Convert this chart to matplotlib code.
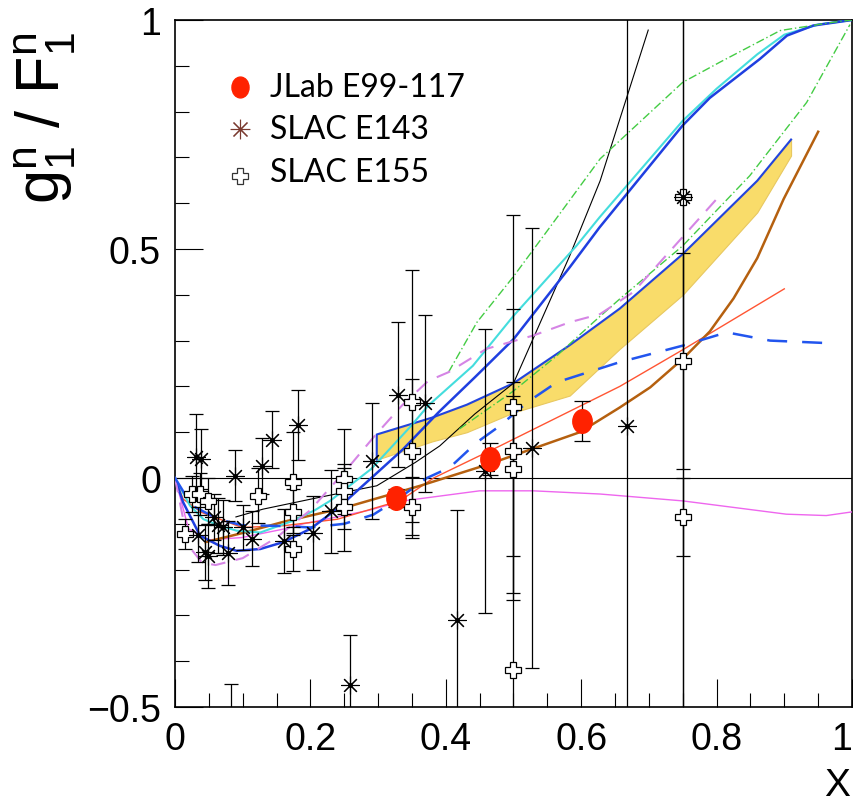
import numpy as np
import matplotlib
matplotlib.use('Agg')
import matplotlib.pyplot as plt
from matplotlib.ticker import MultipleLocator
from matplotlib.path import Path

plt.rcParams['font.family'] = ['Liberation Sans', 'DejaVu Sans']
plt.rcParams['mathtext.fontset'] = 'custom'
plt.rcParams['mathtext.rm'] = 'Liberation Sans'
plt.rcParams['mathtext.it'] = 'Liberation Sans'

# ---- data points ----
jlab_x = [0.327, 0.465, 0.601]
jlab_y = [-0.043, 0.041, 0.124]
jlab_err = [0.02, 0.035, 0.044]

e143_x = [0.031, 0.039, 0.034, 0.044, 0.049, 0.057, 0.063, 0.071, 0.078, 0.083,
          0.089, 0.101, 0.113, 0.128, 0.144, 0.161, 0.182, 0.204, 0.230, 0.259,
          0.291, 0.329, 0.369, 0.416, 0.458, 0.527, 0.667, 0.75]
e143_y = [0.045, 0.041, -0.124, -0.162, -0.170, -0.086, -0.103, -0.108, -0.164, -0.60,
          0.005, -0.108, -0.133, 0.026, 0.084, -0.138, 0.116, -0.120, -0.073, -0.452,
          0.037, 0.182, 0.163, -0.311, 0.016, 0.065, 0.113, 0.614]
e143_err = [0.095, 0.065, 0.06, 0.06, 0.07, 0.05, 0.06, 0.06, 0.07, 0.15,
            0.056, 0.05, 0.06, 0.062, 0.063, 0.07, 0.076, 0.08, 0.09, 0.11,
            0.127, 0.158, 0.193, 0.242, 0.31, 0.48, 1.5, 1.5]

e155_x = [0.015, 0.025, 0.037, 0.049, 0.123, 0.175, 0.175, 0.175, 0.249, 0.249,
          0.249, 0.350, 0.350, 0.350, 0.50, 0.50, 0.50, 0.50, 0.75, 0.75, 0.75]
e155_y = [-0.122, -0.035, -0.035, -0.050, -0.039, -0.009, -0.075, -0.155, -0.002, -0.028,
          -0.064, 0.165, 0.060, -0.064, 0.154, 0.060, 0.020, -0.42, 0.614, 0.256, -0.086]
e155_err = [0.033, 0.04, 0.045, 0.05, 0.06, 0.11, 0.05, 0.047, 0.11, 0.05,
            0.095, 0.29, 0.156, 0.066, 0.42, 0.31, 0.19, 0.6, 1.5, 0.236, 0.085]

# ---- model curves ----
band_x = [0.298, 0.38, 0.431, 0.5, 0.583, 0.657, 0.75, 0.86, 0.91]
band_hi = [0.095, 0.132, 0.160, 0.207, 0.290, 0.370, 0.489, 0.649, 0.739]
band_lo = [0.040, 0.080, 0.100, 0.143, 0.180, 0.282, 0.400, 0.580, 0.704]

blue_x = [0, 0.012, 0.037, 0.066, 0.091, 0.126, 0.16, 0.2, 0.239, 0.29, 0.337, 0.389,
          0.443, 0.5, 0.583, 0.627, 0.75, 0.79, 0.864, 0.904, 0.943, 1.0]
blue_y = [0, -0.053, -0.126, -0.148, -0.159, -0.155, -0.14, -0.111, -0.068, 0.0, 0.063, 0.143,
          0.22, 0.303, 0.46, 0.547, 0.77, 0.83, 0.915, 0.966, 0.988, 1.0]

cyan_x = [0, 0.022, 0.042, 0.066, 0.091, 0.126, 0.175, 0.207, 0.229, 0.29, 0.347, 0.374,
          0.44, 0.5, 0.593, 0.627, 0.75, 0.8, 0.86, 0.9, 0.95, 1.0]
cyan_y = [0, -0.06, -0.09, -0.104, -0.115, -0.119, -0.093, -0.07, -0.05, 0.02, 0.111, 0.158,
          0.245, 0.354, 0.507, 0.569, 0.78, 0.85, 0.925, 0.968, 0.99, 1.0]

green1_x = [0.404, 0.446, 0.5, 0.55, 0.628, 0.75, 0.805, 0.894, 0.972, 1.0]
green1_y = [0.231, 0.34, 0.44, 0.54, 0.697, 0.864, 0.908, 0.977, 0.995, 1.0]

green2_x = [0.42, 0.5, 0.564, 0.618, 0.657, 0.75, 0.849, 0.933, 0.997]
green2_y = [0.107, 0.19, 0.267, 0.34, 0.391, 0.507, 0.66, 0.82, 0.99]

mdash_x = [0, 0.02, 0.04, 0.06, 0.1, 0.15, 0.2, 0.224, 0.256, 0.295, 0.335, 0.374,
           0.404, 0.46, 0.529, 0.583, 0.628, 0.677, 0.8]
mdash_y = [0, -0.148, -0.185, -0.19, -0.175, -0.13, -0.07, -0.03, 0.023, 0.092, 0.158, 0.212,
           0.231, 0.282, 0.311, 0.34, 0.358, 0.406, 0.609]

black_x = [0.09, 0.13, 0.214, 0.298, 0.355, 0.391, 0.443, 0.5, 0.583, 0.628, 0.699]
black_y = [-0.085, -0.068, -0.042, -0.017, 0.034, 0.07, 0.14, 0.207, 0.485, 0.649, 0.978]

brown_x = [0.045, 0.1, 0.162, 0.25, 0.332, 0.362, 0.465, 0.598, 0.657, 0.702, 0.75,
           0.79, 0.825, 0.86, 0.899, 0.95]
brown_y = [-0.14, -0.12, -0.095, -0.065, -0.03, -0.017, 0.031, 0.1, 0.154, 0.198, 0.26,
           0.32, 0.392, 0.48, 0.609, 0.756]

red_x = [0, 0.012, 0.039, 0.099, 0.162, 0.24, 0.308, 0.332, 0.382, 0.48, 0.657, 0.75, 0.9]
red_y = [0, -0.046, -0.075, -0.108, -0.104, -0.09, -0.06, -0.05, 0.0, 0.07, 0.2, 0.28, 0.413]

bdash_x = [0, 0.025, 0.064, 0.099, 0.162, 0.2, 0.25, 0.293, 0.33, 0.372, 0.406, 0.446,
           0.48, 0.52, 0.564, 0.657, 0.75, 0.815, 0.879, 0.972]
bdash_y = [0, -0.06, -0.09, -0.103, -0.105, -0.108, -0.1, -0.08, -0.045, 0.0, 0.023, 0.078,
           0.114, 0.165, 0.209, 0.253, 0.289, 0.318, 0.30, 0.294]

msol_x = [0, 0.02, 0.05, 0.099, 0.162, 0.19, 0.288, 0.337, 0.45, 0.529, 0.628, 0.75,
          0.903, 0.962, 1.0]
msol_y = [0, -0.111, -0.135, -0.13, -0.111, -0.1, -0.07, -0.05, -0.028, -0.028, -0.035, -0.05,
          -0.079, -0.082, -0.074]

xticks = [0, 0.2, 0.4, 0.6, 0.8, 1]
xtick_labels = ['0', '0.2', '0.4', '0.6', '0.8', '1']
yticks = [-0.5, 0, 0.5, 1]
ytick_labels = ['\u22120.5', '0', '0.5', '1']

fig = plt.figure(figsize=(8.54, 8.04), dpi=100)
ax = fig.add_axes([175/854, 1-708/804, 677/854, 687/804])
ax.set_xlim(0, 1)
ax.set_ylim(-0.5, 1)

ax.axhline(0, color='black', lw=0.8, zorder=1)

ax.fill_between(band_x, band_lo, band_hi, facecolor='#f9dc6a', edgecolor='#e8c860', lw=0.8, zorder=2)
ax.plot([band_x[0], band_x[0]] + band_x, [band_lo[0], band_hi[0]] + band_hi, color='#2244dd', lw=1.5, zorder=3)

ax.plot(msol_x, msol_y, color='#ee66ee', lw=1.0, zorder=3)
ax.plot(red_x, red_y, color='#ff5533', lw=1.0, zorder=3)
ax.plot(brown_x, brown_y, color='#b5600f', lw=1.8, zorder=3)
ax.plot(black_x, black_y, color='black', lw=0.8, zorder=3)
ax.plot(cyan_x, cyan_y, color='#44dddd', lw=1.5, zorder=3)
ax.plot(blue_x, blue_y, color='#1f3fe0', lw=1.8, zorder=3)
ax.plot(green1_x, green1_y, color='#44cc44', lw=1.0, ls=(0, (6, 2, 1, 2)), zorder=3)
ax.plot(green2_x, green2_y, color='#44cc44', lw=1.0, ls=(0, (6, 2, 1, 2)), zorder=3)
ax.plot(mdash_x, mdash_y, color='#d585e5', lw=1.5, ls=(0, (7, 5)), zorder=3)
ax.plot(bdash_x, bdash_y, color='#2255ee', lw=1.8, ls=(0, (8, 6)), zorder=3)

# SLAC E155 open crosses
ax.errorbar(e155_x, e155_y, yerr=e155_err, fmt='none', ecolor='black', elinewidth=0.9,
            capsize=5, capthick=0.9, zorder=4)
ax.plot(e155_x, e155_y, ls='none', marker='P', ms=11, mfc='white', mec='black', mew=0.9, zorder=5)

# SLAC E143 stars
ax.errorbar(e143_x, e143_y, yerr=e143_err, fmt='none', ecolor='black', elinewidth=0.9,
            capsize=5, capthick=0.9, zorder=4)
ax.plot(e143_x, e143_y, ls='none', marker=(8, 2, 0), ms=13, mec='black', mew=0.8, zorder=5)
ax.plot(e143_x, e143_y, ls='none', marker='o', ms=2.5, color='black', zorder=5)

# JLab E99-117
circ = Path.unit_circle()
ellipse = Path(circ.vertices * [0.82, 1.0], circ.codes)
ax.errorbar(jlab_x, jlab_y, yerr=jlab_err, fmt='none', ecolor='black', elinewidth=0.9,
            capsize=6, capthick=0.9, zorder=6)
ax.plot(jlab_x, jlab_y, ls='none', marker=ellipse, ms=17, color='#ff2200', mec='#ff2200', zorder=7)

# legend
leg_font = dict(family=['Lato', 'DejaVu Sans'], fontsize=23)
lx, tx = 0.096, 0.140
rows = [0.9025, 0.841, 0.779]
ax.plot([lx], [rows[0]], transform=ax.transAxes, marker=ellipse, ms=15, color='#ff2200', clip_on=False)
ax.plot([lx], [rows[1]], transform=ax.transAxes, marker=(8, 2, 0), ms=14, mec='#7a3a30', mew=0.8, clip_on=False)
ax.plot([lx], [rows[2] - 0.006], transform=ax.transAxes, marker='P', ms=11, mfc='white', mec='#333333', mew=0.9, clip_on=False)
for r, lab in zip(rows, ['JLab E99-117', 'SLAC E143', 'SLAC E155']):
    ax.text(tx, r, lab, transform=ax.transAxes, va='center', ha='left', **leg_font)

# axes styling
for side in ['left', 'bottom', 'right', 'top']:
    ax.spines[side].set_linewidth(1.2)
ax.set_xticks(xticks)
ax.set_xticklabels(xtick_labels)
ax.set_yticks(yticks)
ax.set_yticklabels(ytick_labels)
ax.xaxis.set_minor_locator(MultipleLocator(0.05))
ax.yaxis.set_minor_locator(MultipleLocator(0.1))
ax.tick_params(which='both', direction='in', top=False, right=False, width=0.8)
ax.tick_params(which='major', length=20, labelsize=27, pad=10)
ax.tick_params(which='minor', length=10)
# last x label sits flush with the right edge of the figure
ax.get_xticklabels()[-1].set_horizontalalignment('right')

fig.text(1 - 4/854, 1 - 796/804, 'X', ha='right', va='baseline', fontsize=28)
fig.text(45/854, 1 - 118/804, r'$\mathrm{g_1^n\ /\ F_1^n}$', rotation=90,
         ha='center', va='center', fontsize=44)

plt.savefig('out.png', dpi=100)
